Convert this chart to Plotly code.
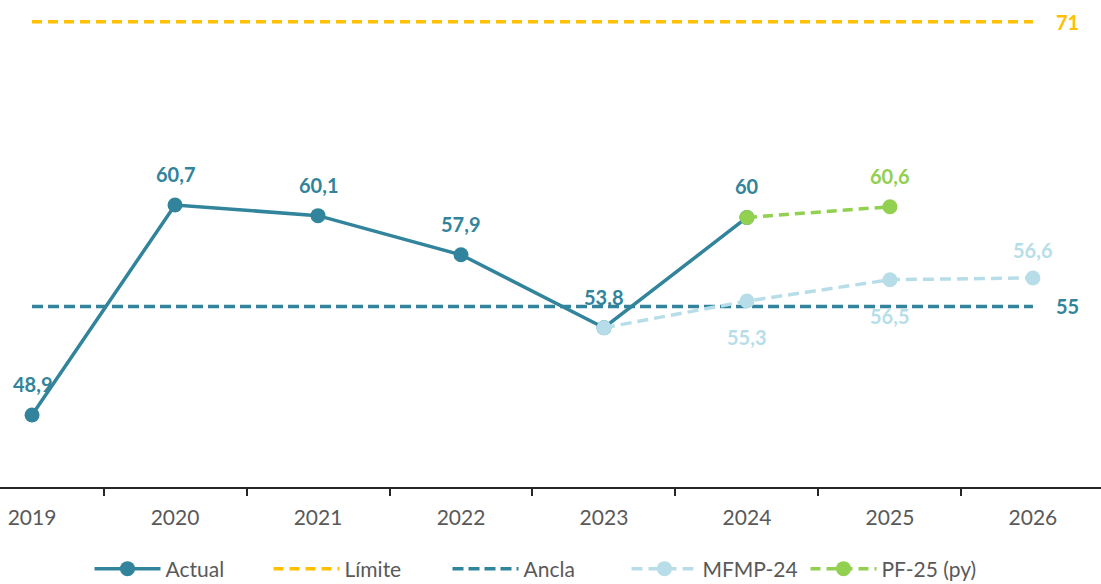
import plotly.graph_objects as go

years = ["2019", "2020", "2021", "2022", "2023", "2024", "2025", "2026"]
actual_x = ["2019", "2020", "2021", "2022", "2023", "2024"]
actual_y = [48.9, 60.7, 60.1, 57.9, 53.8, 60.0]
actual_lbl = ["48,9", "60,7", "60,1", "57,9", "53,8", "60"]

limite_y = [71] * 8
ancla_y = [55] * 8

mfmp_x = ["2023", "2024", "2025", "2026"]
mfmp_y = [53.8, 55.3, 56.5, 56.6]
mfmp_lbl = ["", "55,3", "56,5", "56,6"]
mfmp_pos = ["", "below", "below", "above"]

pf_x = ["2024", "2025"]
pf_y = [60.0, 60.6]
pf_lbl = ["", "60,6"]

TEAL = "#31849B"
GOLD = "#FFC000"
LBLUE = "#B7DEE8"
GREEN = "#92D050"
FONT = "Lato"
LW = 3.5

fig = go.Figure()
fig.add_trace(go.Scatter(x=years, y=limite_y, name="Límite", mode="lines",
                         line=dict(color=GOLD, width=LW, dash="10px,6px")))
fig.add_trace(go.Scatter(x=years, y=ancla_y, name="Ancla", mode="lines",
                         line=dict(color=TEAL, width=LW, dash="11px,5px")))
fig.add_trace(go.Scatter(x=actual_x, y=actual_y, name="Actual", mode="lines+markers",
                         line=dict(color=TEAL, width=LW), marker=dict(size=15, color=TEAL)))
fig.add_trace(go.Scatter(x=mfmp_x, y=mfmp_y, name="MFMP-24", mode="lines+markers",
                         line=dict(color=LBLUE, width=LW, dash="11px,6px"),
                         marker=dict(size=15, color=LBLUE)))
fig.add_trace(go.Scatter(x=pf_x, y=pf_y, name="PF-25 (py)", mode="lines+markers",
                         line=dict(color=GREEN, width=LW, dash="10px,6px"),
                         marker=dict(size=15, color=GREEN)))

ann = []
for x, y, t in zip(actual_x, actual_y, actual_lbl):
    ann.append((x, y, t, 31, TEAL))
for x, y, t, p in zip(mfmp_x, mfmp_y, mfmp_lbl, mfmp_pos):
    if t:
        ann.append((x, y, t, -36 if p == "below" else 28, LBLUE))
for x, y, t in zip(pf_x, pf_y, pf_lbl):
    if t:
        ann.append((x, y, t, 31, GREEN))

annotations = []
for x, y, t, ys, c in ann:
    annotations.append(dict(x=years.index(x), y=y, xref="x", yref="y", text="<b>%s</b>" % t,
                            showarrow=False, yshift=ys,
                            font=dict(family=FONT, size=20, color=c)))
annotations.append(dict(x=len(years) - 1, y=limite_y[-1], xref="x", yref="y", text="<b>71</b>",
                        showarrow=False, xshift=35, font=dict(family=FONT, size=20, color=GOLD)))
annotations.append(dict(x=len(years) - 1, y=ancla_y[-1], xref="x", yref="y", text="<b>55</b>",
                        showarrow=False, xshift=35, font=dict(family=FONT, size=20, color=TEAL)))

fig.update_layout(
    width=1101, height=584,
    margin=dict(l=0, r=0, t=0, b=97, autoexpand=False),
    plot_bgcolor="white", paper_bgcolor="white",
    annotations=annotations,
    showlegend=True,
    legend=dict(orientation="h", x=537 / 1101, xanchor="center", xref="container",
                y=1 - 569 / 584, yanchor="middle", yref="container",
                font=dict(family=FONT, size=21, color="#595959"),
                itemwidth=66, entrywidth=98, traceorder="normal"),
    xaxis=dict(type="category", categoryorder="array", categoryarray=years,
               range=[-0.224, 7.476], tickson="boundaries", ticks="outside", ticklen=7,
               tickcolor="#262626", tickwidth=1.5, ticklabelstandoff=11,
               showline=True, linecolor="#262626", linewidth=1.5, showgrid=False,
               tickfont=dict(family=FONT, size=21, color="#595959")),
    yaxis=dict(range=[44.85, 72.22], showticklabels=False, ticks="", showline=False,
               showgrid=False, zeroline=False),
)
order = {"Actual": 1, "Límite": 2, "Ancla": 3, "MFMP-24": 4, "PF-25 (py)": 5}
for tr in fig.data:
    tr.legendrank = order[tr.name]

fig.write_html("out.html", config={"displayModeBar": False},
               post_script="document.body.style.margin='0';")
